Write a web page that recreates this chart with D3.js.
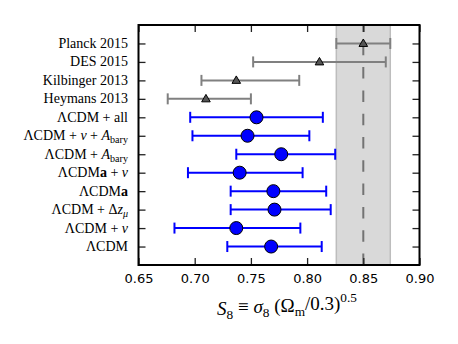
<!DOCTYPE html>
<html lang="en">
<head>
<meta charset="utf-8">
<title>S8 constraints</title>
<script src="https://cdn.jsdelivr.net/npm/d3@7"></script>
<style>
  body { margin: 0; background: #fff; }
  .tick text { font-family: "DejaVu Sans", sans-serif; font-size: 13px; fill: #000; }
  .lab { font-family: "Liberation Serif", serif; font-size: 14px; fill: #000; }
</style>
</head>
<body>
<script>
// rows top to bottom
var labels = [
  "Planck 2015",
  "DES 2015",
  "Kilbinger 2013",
  "Heymans 2013",
  "ΛCDM + all",
  "ΛCDM + <i>ν</i> + <i>A</i><sub>bary</sub>",
  "ΛCDM + <i>A</i><sub>bary</sub>",
  "ΛCDM<b>a</b> + <i>ν</i>",
  "ΛCDM<b>a</b>",
  "ΛCDM + Δ<i>z</i><sub><i>μ</i></sub>",
  "ΛCDM + <i>ν</i>",
  "ΛCDM"
];
var centers = [0.850, 0.811, 0.737, 0.710, 0.755, 0.747, 0.777, 0.740, 0.770, 0.771, 0.737, 0.768];
var lows    = [0.826, 0.752, 0.706, 0.676, 0.696, 0.698, 0.737, 0.694, 0.732, 0.732, 0.682, 0.729];
var highs   = [0.874, 0.870, 0.793, 0.750, 0.814, 0.802, 0.825, 0.796, 0.817, 0.821, 0.794, 0.813];
var external = [true, true, true, true, false, false, false, false, false, false, false, false];
var xTicks = [0.65, 0.70, 0.75, 0.80, 0.85, 0.90];
var planckBand = [0.826, 0.874];
var planckMean = 0.85;

var w = 458, h = 344;
var pLeft = 138.5, pRight = 419.5, pTop = 25, pBottom = 265;

var svg = d3.select("body").append("svg").attr("width", w).attr("height", h);

var x = d3.scaleLinear().domain([0.65, 0.90]).range([pLeft, pRight]);
var y = d3.scaleLinear().domain([-1, labels.length]).range([pTop, pBottom]);

var rows = labels.map(function(l, i) {
  return { label: l, c: centers[i], lo: lows[i], hi: highs[i], ext: external[i], i: i };
});

// Planck band + dashed mean line
svg.append("rect")
  .attr("x", x(planckBand[0])).attr("y", pTop)
  .attr("width", x(planckBand[1]) - x(planckBand[0])).attr("height", pBottom - pTop)
  .attr("fill", "#d9d9d9").attr("stroke", "#bdbdbd").attr("stroke-width", 1.5);

svg.append("line")
  .attr("x1", x(planckMean)).attr("x2", x(planckMean))
  .attr("y1", pBottom).attr("y2", pTop)
  .attr("stroke", "#737373").attr("stroke-width", 2)
  .attr("stroke-dasharray", "11.5,11.8");

// axes (ticks inward, labels only on bottom)
svg.append("g").attr("transform", "translate(0," + pBottom + ")")
  .call(d3.axisBottom(x).tickValues(xTicks).tickSize(-7).tickPadding(9).tickFormat(d3.format(".2f")));
svg.append("g").attr("transform", "translate(0," + pTop + ")")
  .call(d3.axisTop(x).tickValues(xTicks).tickSize(-7).tickFormat(""));
svg.append("g").attr("transform", "translate(" + pLeft + ",0)")
  .call(d3.axisLeft(y).tickValues(d3.range(labels.length)).tickSize(-7).tickFormat(""));
svg.append("g").attr("transform", "translate(" + pRight + ",0)")
  .call(d3.axisRight(y).tickValues(d3.range(labels.length)).tickSize(-7).tickFormat(""));
svg.selectAll(".domain").remove();
svg.selectAll(".tick line").attr("stroke", "#222").attr("stroke-width", 1.3);

// error bars
var bars = svg.append("g").selectAll("g").data(rows).enter().append("g")
  .attr("stroke", function(d) { return d.ext ? "#808080" : "#0000ff"; })
  .attr("stroke-width", 2);
bars.append("line")
  .attr("x1", function(d) { return x(d.lo); }).attr("x2", function(d) { return x(d.hi); })
  .attr("y1", function(d) { return y(d.i); }).attr("y2", function(d) { return y(d.i); });
bars.append("line")
  .attr("x1", function(d) { return x(d.lo); }).attr("x2", function(d) { return x(d.lo); })
  .attr("y1", function(d) { return y(d.i) - 5.5; }).attr("y2", function(d) { return y(d.i) + 5.5; });
bars.append("line")
  .attr("x1", function(d) { return x(d.hi); }).attr("x2", function(d) { return x(d.hi); })
  .attr("y1", function(d) { return y(d.i) - 5.5; }).attr("y2", function(d) { return y(d.i) + 5.5; });

// markers
svg.append("g").selectAll("path").data(rows.filter(function(d) { return d.ext; })).enter()
  .append("path")
  .attr("d", d3.symbol().type(d3.symbolTriangle).size(32))
  .attr("transform", function(d) { return "translate(" + x(d.c) + "," + (y(d.i) + 0.5) + ")"; })
  .attr("fill", "#555").attr("stroke", "#000").attr("stroke-width", 1);
svg.append("g").selectAll("circle").data(rows.filter(function(d) { return !d.ext; })).enter()
  .append("circle")
  .attr("cx", function(d) { return x(d.c); }).attr("cy", function(d) { return y(d.i); })
  .attr("r", 6.5).attr("fill", "#0000ff").attr("stroke", "#000").attr("stroke-width", 1);

// frame
svg.append("rect").attr("x", pLeft).attr("y", pTop)
  .attr("width", pRight - pLeft).attr("height", pBottom - pTop)
  .attr("fill", "none").attr("stroke", "#000").attr("stroke-width", 2);

// tiny markup renderer: <i>, <b>, <sub>
function rich(textSel, str) {
  var re = /<(\/?)(i|b|sub)>/g, st = { i: 0, b: 0, sub: 0 }, last = 0, m, wasSub = false;
  function emit(s) {
    if (!s) return;
    var t = textSel.append("tspan").text(s);
    if (st.i) t.attr("font-style", "italic");
    if (st.b) t.attr("font-weight", "bold");
    if (st.sub && !wasSub) t.attr("dy", "0.3em").attr("font-size", "0.72em");
    else if (st.sub) t.attr("font-size", "0.72em");
    else if (!st.sub && wasSub) t.attr("dy", "-0.3em");
    wasSub = !!st.sub;
  }
  while ((m = re.exec(str)) !== null) {
    emit(str.slice(last, m.index));
    st[m[2]] += m[1] ? -1 : 1;
    last = re.lastIndex;
  }
  emit(str.slice(last));
}

svg.append("g").selectAll("text").data(rows).enter().append("text")
  .attr("class", "lab")
  .attr("x", 128).attr("y", function(d) { return y(d.i) + 4.5; })
  .attr("text-anchor", "end")
  .each(function(d) { rich(d3.select(this), d.label); });

// x axis label
var xl = svg.append("text").attr("class", "lab").style("font-size", "19px")
  .attr("x", 287).attr("y", 315).attr("text-anchor", "middle");
xl.append("tspan").attr("font-style", "italic").text("S");
xl.append("tspan").attr("font-size", "0.7em").attr("dy", "0.3em").text("8");
xl.append("tspan").attr("dy", "-0.3em").text(" ≡ ");
xl.append("tspan").attr("font-style", "italic").text("σ");
xl.append("tspan").attr("font-size", "0.7em").attr("dy", "0.3em").text("8");
xl.append("tspan").attr("dy", "-0.3em").text(" (Ω");
xl.append("tspan").attr("font-size", "0.7em").attr("dy", "0.3em").text("m");
xl.append("tspan").attr("dy", "-0.3em").text("/0.3)");
xl.append("tspan").attr("font-size", "0.7em").attr("dy", "-0.6em").text("0.5");
</script>
</body>
</html>
